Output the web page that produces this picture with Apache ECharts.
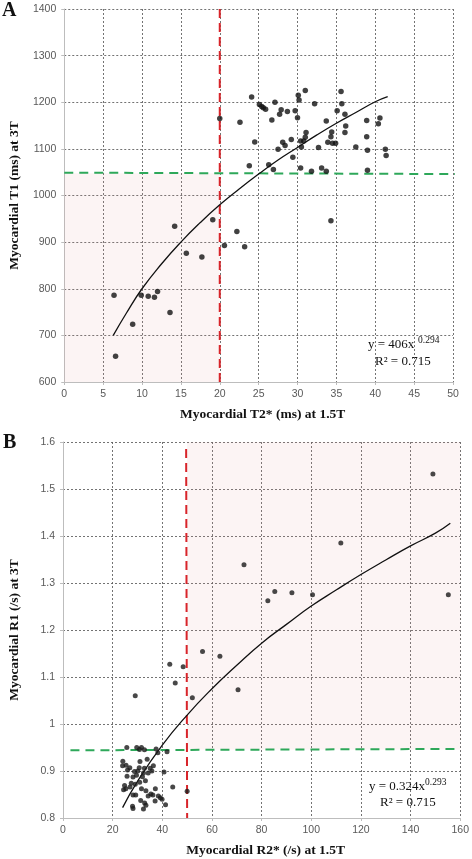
<!DOCTYPE html>
<html><head><meta charset="utf-8">
<script src="https://cdn.jsdelivr.net/npm/echarts@6/dist/echarts.min.js"></script>
<style>html,body{margin:0;padding:0;background:#fff}#c{width:472px;height:859px}</style>
</head><body><div id="c"></div>
<script>
// ---- Panel A data: Myocardial T2* (ms) at 1.5T vs T1 (ms) at 3T
const pointsA = [
 [20.0,1165],[22.6,1157],[24.1,1211],[24.5,1115],[23.8,1064],[25.1,1195],[25.4,1191],[25.6,1188],[25.9,1185],
 [26.3,1066],[26.9,1056],[26.7,1162],[27.1,1200],[27.5,1099],[27.7,1174],[27.9,1184],[28.1,1114],[28.4,1107],
 [28.7,1180],[29.2,1120],[29.4,1082],[29.7,1182],[30.0,1167],[30.1,1215],[30.2,1205],[31.0,1225],[30.4,1059],
 [30.4,1117],[30.5,1104],[30.8,1117],[31.0,1125],[31.1,1135],[31.8,1052],[32.2,1197],[32.7,1103],[33.1,1059],
 [33.7,1052],[33.7,1160],[33.9,1114],[34.3,1126],[34.4,1136],[34.5,1112],[34.9,1112],[35.1,1182],[35.6,1223],
 [35.7,1197],[36.1,1174],[36.2,1149],[36.1,1135],[37.5,1104],[38.9,1161],[38.9,1126],[39.0,1097],[39.0,1054],
 [40.4,1154],[40.6,1166],[41.3,1099],[41.4,1086],
 [6.4,786],[6.6,655],[8.8,724],[9.9,786],[10.8,784],[11.6,782],[12.0,794],[13.6,749],[14.2,934],[15.7,876],
 [17.7,868],[19.1,948],[20.6,893],[22.2,923],[23.2,890],[34.3,946]
];
const trendAx = [6.3,8,10,12.5,15,17.5,20,22.5,25,27.5,30,32.5,35,37.5,40,41.6];
const trendAy = [700,748,800,853,900,942,980,1014,1046,1076,1103,1130,1155,1178,1201,1212];
const cutA_T2 = 20;          // red dashed vertical
const cutA_T1 = [1049,1046]; // green dashed (left, right)
const xTicksA = [0,50,5];    // min,max,interval
const yTicksA = [600,1400,100];

// ---- Panel B data: Myocardial R2* (/s) at 1.5T vs R1 (/s) at 3T
const pointsB = [
 [149,1.532],[155.2,1.275],[111.9,1.385],[72.9,1.339],[82.5,1.262],[85.3,1.282],[92.2,1.279],[100.5,1.275],
 [56.2,1.154],[63.2,1.144],[70.5,1.073],[48.4,1.122],[43.0,1.127],[45.2,1.087],[52.1,1.056],[29.1,1.060],
 [40.7,0.898],[44.2,0.866],[50.0,0.857],
 [25.7,0.950],[29.7,0.950],[30.8,0.946],[31.6,0.950],[32.8,0.945],[37.5,0.947],[38.2,0.939],[41.9,0.941],
 [24.1,0.921],[24.0,0.911],[25.4,0.912],[26.9,0.907],[28.8,0.899],[30.1,0.900],[30.7,0.907],[32.4,0.896],
 [32.8,0.906],[33.9,0.925],[35.1,0.906],[36.4,0.911],[35.8,0.900],[34.3,0.896],[25.8,0.889],[28.2,0.887],
 [29.6,0.891],[27.5,0.874],[29.1,0.872],[30.9,0.876],[32.0,0.888],[33.2,0.879],[24.8,0.869],[24.4,0.860],
 [25.3,0.862],[28.2,0.849],[29.3,0.849],[31.6,0.862],[33.4,0.858],[34.3,0.847],[35.4,0.851],[36.2,0.849],
 [37.2,0.862],[38.4,0.847],[39.2,0.843],[39.9,0.840],[31.3,0.837],[32.9,0.832],[33.4,0.827],[37.1,0.836],
 [41.3,0.828],[28.0,0.825],[28.2,0.820],[32.4,0.819],[27.0,0.866],[26.0,0.902],[31.0,0.920]
];
const trendBx = [24,30,40,50,60,70,80,90,100,110,120,130,140,150,156];
const trendBy = [0.822,0.878,0.955,1.019,1.075,1.125,1.172,1.212,1.251,1.285,1.318,1.349,1.379,1.406,1.427];
const cutB_R2 = 50;
const cutB_R1 = [0.944,0.947];
const xTicksB = [0,160,20];
const yTicksB = [0.8,1.6,0.1];

const chart = echarts.init(document.getElementById('c'), null, {renderer:'canvas'});
const tickFont = {fontFamily:'Liberation Sans', fontSize:10.5, color:'#595959'};
const nameFont = {fontFamily:'Liberation Serif', fontWeight:'bold', fontSize:13.5, color:'#111'};
const grid = 'rgba(90,90,90,0.85)';

function xAx(idx, t, name){
  return {type:'value', gridIndex:idx, min:t[0], max:t[1], interval:t[2],
    name:name, nameLocation:'middle', nameGap:26, nameTextStyle:Object.assign({}, nameFont, {padding:[0,0,0,8]}),
    axisLine:{show:true, lineStyle:{color:'#bdbdbd', width:1}},
    axisTick:{show:true, length:3, lineStyle:{color:'#bdbdbd'}},
    axisLabel:Object.assign({margin:7}, tickFont),
    splitLine:{show:true, showMinLine:false, lineStyle:{color:grid, type:[2,2], width:1}}};
}
function yAx(idx, t, name, fmt){
  return {type:'value', gridIndex:idx, min:t[0], max:t[1], interval:t[2],
    name:name, nameLocation:'middle', nameGap:41, nameTextStyle:nameFont,
    axisLine:{show:true, lineStyle:{color:'#bdbdbd', width:1}},
    axisTick:{show:true, length:3, lineStyle:{color:'#bdbdbd'}},
    axisLabel:Object.assign({margin:8, formatter:fmt}, tickFont),
    splitLine:{show:true, showMinLine:false, lineStyle:{color:grid, type:[2,2], width:1}}};
}
const zip = (a,b)=>a.map((v,i)=>[v,b[i]]);

chart.setOption({
  animation:false,
  backgroundColor:'#fff',
  grid:[{left:54, top:9, width:399, height:373},{left:54, top:442, width:408, height:376}],
  xAxis:[xAx(0,xTicksA,'Myocardial T2* (ms) at 1.5T'), xAx(1,xTicksB,'Myocardial R2* (/s) at 1.5T')],
  yAxis:[yAx(0,yTicksA,'Myocardial T1 (ms) at 3T', v=>String(v)),
         yAx(1,yTicksB,'Myocardial R1 (/s) at 3T', v=>String(+v.toFixed(1)))],
  series:[
    {type:'line', xAxisIndex:0, yAxisIndex:0, data:[], silent:true,
     markArea:{silent:true, itemStyle:{color:'rgba(225,150,150,0.1)'},
       data:[[{coord:[xTicksA[0], yTicksA[0]]},{coord:[cutA_T2, (cutA_T1[0]+cutA_T1[1])/2]}]]}},
    {type:'line', xAxisIndex:1, yAxisIndex:1, data:[], silent:true,
     markArea:{silent:true, itemStyle:{color:'rgba(225,150,150,0.1)'},
       data:[[{coord:[cutB_R2, (cutB_R1[0]+cutB_R1[1])/2]},{coord:[xTicksB[1], yTicksB[1]]}]]}},
    // reference lines A
    {type:'line', xAxisIndex:0, yAxisIndex:0, symbol:'none', z:3,
     data:[[xTicksA[0],cutA_T1[0]],[xTicksA[1]+0.3,cutA_T1[1]]], lineStyle:{color:'#2ea85a', width:2, type:[9,6]}},
    {type:'line', xAxisIndex:0, yAxisIndex:0, symbol:'none', z:3,
     data:[[cutA_T2,yTicksA[0]],[cutA_T2,yTicksA[1]]], lineStyle:{color:'#d8242a', width:2, type:[9,5]}},
    // reference lines B
    {type:'line', xAxisIndex:1, yAxisIndex:1, symbol:'none', z:3,
     data:[[xTicksB[0]+3,cutB_R1[0]],[xTicksB[1],cutB_R1[1]]], lineStyle:{color:'#2ea85a', width:2, type:[9,6]}},
    {type:'line', xAxisIndex:1, yAxisIndex:1, symbol:'none', z:3,
     data:[[cutB_R2-0.4,1.585],[cutB_R2,yTicksB[0]]], lineStyle:{color:'#d8242a', width:2, type:[9,5]}},
    // trend lines
    {type:'line', xAxisIndex:0, yAxisIndex:0, symbol:'none', smooth:true, z:4,
     data:zip(trendAx,trendAy), lineStyle:{color:'#111', width:1.3}},
    {type:'line', xAxisIndex:1, yAxisIndex:1, symbol:'none', smooth:true, z:4,
     data:zip(trendBx,trendBy), lineStyle:{color:'#111', width:1.3}},
    // scatter
    {type:'scatter', xAxisIndex:0, yAxisIndex:0, symbolSize:5.5, z:5, data:pointsA, itemStyle:{color:'#111'}},
    {type:'scatter', xAxisIndex:1, yAxisIndex:1, symbolSize:5, z:5, data:pointsB, itemStyle:{color:'#1a1a1a'}}
  ],
  graphic:[
    {type:'text', left:2, top:1, style:{text:'A', font:'bold 20px "Liberation Serif"', fill:'#111'}},
    {type:'text', left:3, top:433, style:{text:'B', font:'bold 20px "Liberation Serif"', fill:'#111'}},
    {type:'text', left:368, top:338, style:{text:'y = 406x', font:'13px "Liberation Serif"', fill:'#111'}},
    {type:'text', left:418, top:335, style:{text:'0.294', font:'9.5px "Liberation Serif"', fill:'#111'}},
    {type:'text', left:375, top:355, style:{text:'R² = 0.715', font:'13px "Liberation Serif"', fill:'#111'}},
    {type:'text', left:369, top:780, style:{text:'y = 0.324x', font:'13px "Liberation Serif"', fill:'#111'}},
    {type:'text', left:425, top:777, style:{text:'0.293', font:'9.5px "Liberation Serif"', fill:'#111'}},
    {type:'text', left:380, top:796, style:{text:'R² = 0.715', font:'13px "Liberation Serif"', fill:'#111'}}
  ]
});
</script></body></html>
